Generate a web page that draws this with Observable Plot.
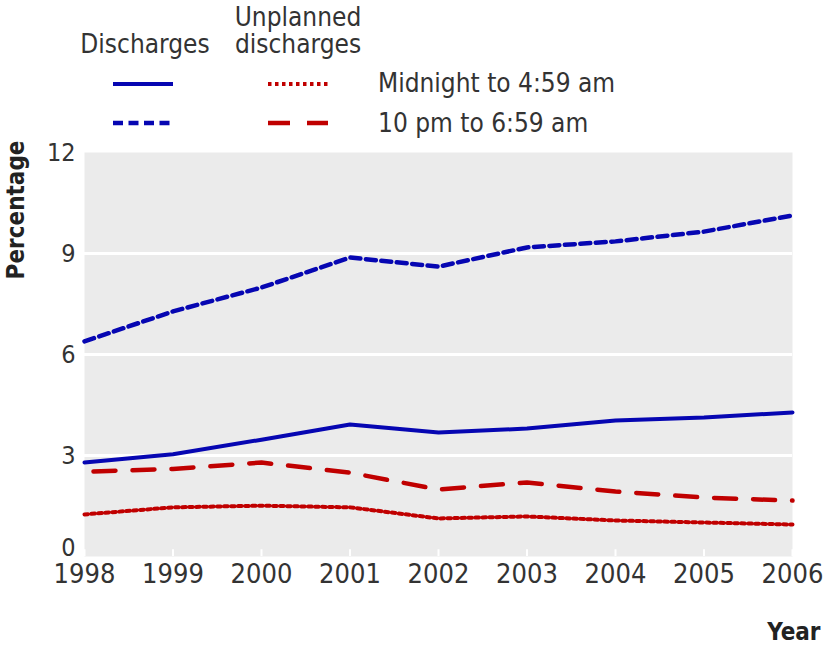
<!DOCTYPE html>
<html>
<head>
<meta charset="utf-8">
<script src="https://cdn.jsdelivr.net/npm/d3@7"></script>
<script src="https://cdn.jsdelivr.net/npm/@observablehq/plot@0.6"></script>
<style>
  html, body { margin: 0; padding: 0; background: #fff; }
  body { width: 824px; height: 648px; overflow: hidden; font-family: "DejaVu Sans Condensed", "Open Sans", sans-serif; font-stretch: condensed; color: #333; }
  #legend { position: relative; width: 824px; height: 140px; }
  #legend .t { position: absolute; font-size: 26px; line-height: 27px; white-space: nowrap; color: #333; }
  #legend svg { position: absolute; }
  #chart svg text { font-stretch: condensed; }
</style>
</head>
<body>
<div id="legend"></div>
<div id="chart"></div>
<script>
const years = [1998, 1999, 2000, 2001, 2002, 2003, 2004, 2005, 2006];
const dischargesMidnight = [2.79, 3.04, 3.47, 3.92, 3.68, 3.80, 4.04, 4.13, 4.28];
const discharges10pm = [6.39, 7.28, 7.99, 8.88, 8.61, 9.18, 9.36, 9.65, 10.13];
const unplannedMidnight = [1.25, 1.46, 1.51, 1.46, 1.13, 1.19, 1.07, 1.01, 0.95];
const unplanned10pm = [2.52, 2.60, 2.79, 2.49, 1.99, 2.20, 1.93, 1.75, 1.66];
const yTicks = [0, 3, 6, 9, 12];
const columnLabels = ["Discharges", "Unplanned\ndischarges"];
const rowLabels = ["Midnight to 4:59 am", "10 pm to 6:59 am"];

const blue = "#0606b2";
const red = "#c00000";
const styles = {
  dischargesMidnight: {stroke: blue, strokeWidth: 4, strokeDasharray: null, offset: 0},
  discharges10pm: {stroke: blue, strokeWidth: 4.5, strokeDasharray: "10,5.5", offset: 0},
  unplannedMidnight: {stroke: red, strokeWidth: 4, strokeDasharray: "3.5,3.5", offset: 0},
  unplanned10pm: {stroke: red, strokeWidth: 4.5, strokeDasharray: "22,17", offset: 30}
};

const series = [
  {key: "dischargesMidnight", values: dischargesMidnight},
  {key: "discharges10pm", values: discharges10pm},
  {key: "unplannedMidnight", values: unplannedMidnight},
  {key: "unplanned10pm", values: unplanned10pm}
];

const font = "'DejaVu Sans Condensed', 'Open Sans', sans-serif";

// Legend (HTML)
const legend = document.getElementById("legend");
function addText(txt, left, top, align) {
  const d = document.createElement("div");
  d.className = "t";
  d.style.left = left + "px";
  d.style.top = top + "px";
  if (align === "center") { d.style.transform = "translateX(-50%)"; d.style.textAlign = "center"; }
  d.innerHTML = txt.replace("\n", "<br>");
  legend.appendChild(d);
}
addText(columnLabels[0], 145, 31, "center");
addText(columnLabels[1], 298, 4, "center");
addText(rowLabels[0], 378, 70, "left");
addText(rowLabels[1], 378, 110, "left");
function addSample(st, left, cy) {
  const ns = "http://www.w3.org/2000/svg";
  const s = document.createElementNS(ns, "svg");
  s.setAttribute("width", 64); s.setAttribute("height", 10);
  s.style.left = left + "px"; s.style.top = (cy - 5) + "px";
  const l = document.createElementNS(ns, "line");
  l.setAttribute("x1", 2); l.setAttribute("x2", 62); l.setAttribute("y1", 5); l.setAttribute("y2", 5);
  l.setAttribute("stroke", st.stroke); l.setAttribute("stroke-width", st.strokeWidth);
  if (st.strokeDasharray) l.setAttribute("stroke-dasharray", st.strokeDasharray);
  s.appendChild(l);
  legend.appendChild(s);
}
addSample(styles.dischargesMidnight, 111, 84);
addSample(styles.unplannedMidnight, 266, 84);
addSample(styles.discharges10pm, 111, 123);
addSample(styles.unplanned10pm, 266, 123);

const lineMarks = series.map(s => {
  const data = years.map((y, i) => ({year: y, value: s.values[i]}));
  const st = styles[s.key];
  return Plot.line(data, {x: "year", y: "value", stroke: st.stroke, strokeWidth: st.strokeWidth,
    strokeDasharray: st.strokeDasharray || undefined, strokeDashoffset: st.offset, strokeLinejoin: "round"});
});

const chart = Plot.plot({
  width: 824,
  height: 508,
  marginTop: 12,
  marginBottom: 92,
  marginLeft: 84,
  marginRight: 32,
  style: {fontFamily: font, fontSize: "27px", color: "#333", background: "#fff", overflow: "visible"},
  x: {domain: [1998, 2006], label: null},
  y: {domain: [0, 12], label: null},
  marks: [
    Plot.frame({fill: "#ebebeb", stroke: "none"}),
    Plot.ruleY([3, 6, 9], {stroke: "white", strokeWidth: 3}),
    Plot.ruleX(years, {y1: 0, y2: 0.2, stroke: "white", strokeWidth: 2}),
    ...lineMarks,
    Plot.axisX({ticks: years, tickFormat: d => String(d), tickSize: 0, tickPadding: 7, label: null, fontSize: 27}),
    Plot.axisY({ticks: yTicks.filter(t => t !== 0), tickSize: 0, tickPadding: 9, label: null, fontSize: 25}),
    Plot.axisY({ticks: yTicks.filter(t => t === 0), tickSize: 0, tickPadding: 9, label: null, fontSize: 25, dy: -9}),
    Plot.text(["Percentage"], {frameAnchor: "top-left", rotate: -90, dx: -78, dy: -12, textAnchor: "end",
      fontWeight: "bold", fontSize: 24, fill: "#222", fontFamily: font}),
    Plot.text(["Year"], {frameAnchor: "bottom-right", dx: 28, dy: 83, textAnchor: "end",
      fontWeight: "bold", fontSize: 24, fill: "#222", fontFamily: font})
  ]
});
document.getElementById("chart").appendChild(chart);
</script>
</body>
</html>
